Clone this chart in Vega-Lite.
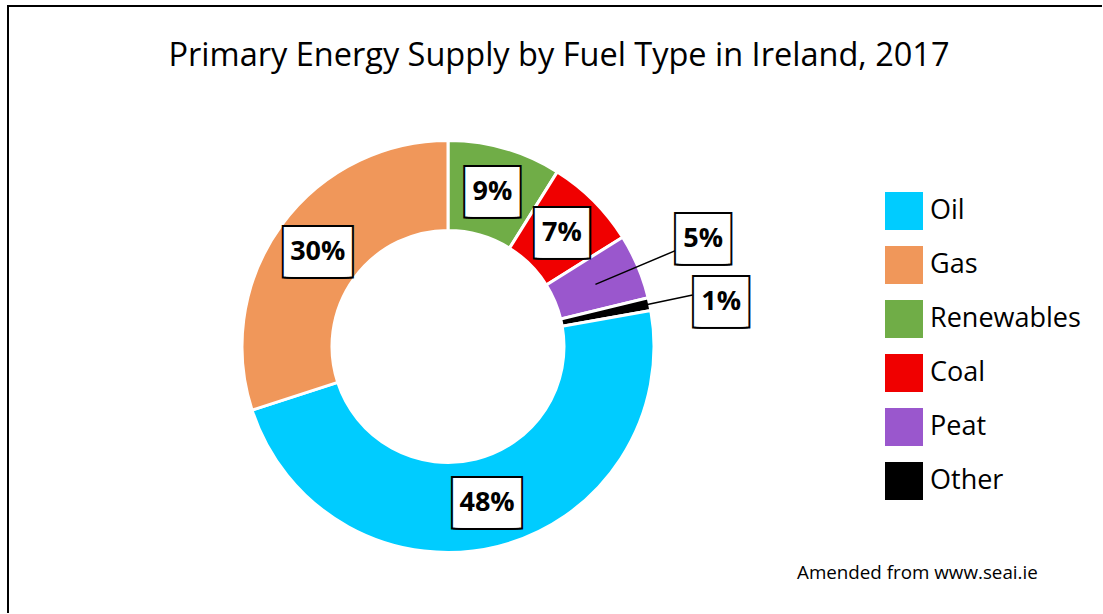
{
  "$schema": "https://vega.github.io/schema/vega-lite/v6.json",
  "width": 1094,
  "height": 607,
  "padding": {"left": 8, "top": 6, "right": 0, "bottom": 0},
  "background": "white",
  "view": {"stroke": "black", "strokeWidth": 2, "strokeDash": [1094, 1701, 607], "fill": "white"},
  "title": {
    "text": "Primary Energy Supply by Fuel Type in Ireland, 2017",
    "font": "Open Sans",
    "fontSize": 32.5,
    "fontWeight": "normal",
    "color": "black",
    "anchor": "middle",
    "baseline": "bottom",
    "offset": -99,
    "dx": 4
  },
  "config": {
    "legend": {
      "orient": "none",
      "legendX": 789,
      "legendY": 186,
      "direction": "vertical",
      "padding": 0,
      "symbolType": "square",
      "symbolSize": 1444,
      "symbolOffset": 88,
      "symbolStrokeWidth": 0,
      "symbolOpacity": 1,
      "labelOffset": 7,
      "labelFont": "Open Sans",
      "labelFontSize": 27,
      "labelColor": "black",
      "labelLimit": 300,
      "rowPadding": 16,
      "titleOrient": "bottom",
      "titleAnchor": "start",
      "titleBaseline": "top",
      "titlePadding": 64,
      "titleFont": "Open Sans",
      "titleFontSize": 18.8,
      "titleFontWeight": "normal",
      "titleColor": "black",
      "titleLimit": 400
    }
  },
  "data": {
    "values": [
      {"fuel": "Renewables", "value": 8.9, "pct": "9%", "ord": 1},
      {"fuel": "Coal", "value": 7.2, "pct": "7%", "ord": 2},
      {"fuel": "Peat", "value": 5.1, "pct": "5%", "ord": 3},
      {"fuel": "Other", "value": 1.0, "pct": "1%", "ord": 4},
      {"fuel": "Oil", "value": 47.8, "pct": "48%", "ord": 5},
      {"fuel": "Gas", "value": 30.0, "pct": "30%", "ord": 6}
    ]
  },
  "encoding": {
    "theta": {"field": "value", "type": "quantitative", "stack": true},
    "order": {"field": "ord", "type": "quantitative"},
    "detail": {"field": "fuel", "type": "nominal"}
  },
  "layer": [
    {
      "mark": {"type": "arc", "outerRadius": 206, "innerRadius": 116, "stroke": "white", "strokeWidth": 3, "xOffset": -107, "yOffset": 37},
      "encoding": {
        "color": {
          "field": "fuel",
          "type": "nominal",
          "scale": {
            "domain": ["Oil", "Gas", "Renewables", "Coal", "Peat", "Other"],
            "range": ["#00CCFF", "#F0975A", "#70AD47", "#F00000", "#9A57CD", "#000000"]
          },
          "legend": {"title": "Amended from www.seai.ie"}
        }
      }
    },
    {
      "mark": {"type": "arc", "outerRadius": 250, "innerRadius": 160, "padAngle": 3.14, "fillOpacity": 0, "stroke": "black", "strokeWidth": 1.5, "xOffset": -107, "yOffset": 37},
      "encoding": {
        "strokeOpacity": {"condition": {"test": "datum.fuel === 'Peat' || datum.fuel === 'Other'", "value": 1}, "value": 0}
      }
    },
    {
      "mark": {"type": "text", "radius": 161, "font": "DejaVu Sans Mono", "fontSize": 3.85, "align": "center", "baseline": "middle", "fill": "black", "stroke": "black", "strokeWidth": 48.9, "strokeJoin": "miter", "xOffset": -107, "yOffset": 37},
      "encoding": {
        "text": {"condition": {"test": "datum.fuel === 'Oil' || datum.fuel === 'Gas'", "value": "██████████"}, "value": "████"},
        "opacity": {"condition": {"test": "datum.fuel === 'Peat' || datum.fuel === 'Other'", "value": 0}, "value": 1}
      }
    },
    {
      "mark": {"type": "text", "radius": 161, "font": "DejaVu Sans Mono", "fontSize": 3.85, "align": "center", "baseline": "middle", "fill": "white", "stroke": "white", "strokeWidth": 44.9, "strokeJoin": "miter", "xOffset": -107, "yOffset": 37},
      "encoding": {
        "text": {"condition": {"test": "datum.fuel === 'Oil' || datum.fuel === 'Gas'", "value": "██████████"}, "value": "████"},
        "opacity": {"condition": {"test": "datum.fuel === 'Peat' || datum.fuel === 'Other'", "value": 0}, "value": 1}
      }
    },
    {
      "mark": {"type": "text", "radius": 277, "text": "████", "font": "DejaVu Sans Mono", "fontSize": 3.85, "align": "center", "baseline": "middle", "fill": "black", "stroke": "black", "strokeWidth": 48.9, "strokeJoin": "miter", "xOffset": -107, "yOffset": 37},
      "encoding": {
        "opacity": {"condition": {"test": "datum.fuel === 'Peat'", "value": 1}, "value": 0}
      }
    },
    {
      "mark": {"type": "text", "radius": 277, "text": "████", "font": "DejaVu Sans Mono", "fontSize": 3.85, "align": "center", "baseline": "middle", "fill": "white", "stroke": "white", "strokeWidth": 44.9, "strokeJoin": "miter", "xOffset": -107, "yOffset": 37},
      "encoding": {
        "opacity": {"condition": {"test": "datum.fuel === 'Peat'", "value": 1}, "value": 0}
      }
    },
    {
      "mark": {"type": "text", "radius": 277, "text": "████", "font": "DejaVu Sans Mono", "fontSize": 3.85, "align": "center", "baseline": "middle", "fill": "black", "stroke": "black", "strokeWidth": 48.9, "strokeJoin": "miter", "xOffset": -105, "yOffset": 50},
      "encoding": {
        "opacity": {"condition": {"test": "datum.fuel === 'Other'", "value": 1}, "value": 0}
      }
    },
    {
      "mark": {"type": "text", "radius": 277, "text": "████", "font": "DejaVu Sans Mono", "fontSize": 3.85, "align": "center", "baseline": "middle", "fill": "white", "stroke": "white", "strokeWidth": 44.9, "strokeJoin": "miter", "xOffset": -105, "yOffset": 50},
      "encoding": {
        "opacity": {"condition": {"test": "datum.fuel === 'Other'", "value": 1}, "value": 0}
      }
    },
    {
      "mark": {"type": "text", "radius": 161, "font": "Open Sans", "fontSize": 27, "fontWeight": "bold", "align": "center", "baseline": "middle", "fill": "black", "xOffset": -107, "yOffset": 37},
      "encoding": {
        "text": {"field": "pct", "type": "nominal"},
        "opacity": {"condition": {"test": "datum.fuel === 'Peat' || datum.fuel === 'Other'", "value": 0}, "value": 1}
      }
    },
    {
      "mark": {"type": "text", "radius": 277, "font": "Open Sans", "fontSize": 27, "fontWeight": "bold", "align": "center", "baseline": "middle", "fill": "black", "xOffset": -107, "yOffset": 37},
      "encoding": {
        "text": {"field": "pct", "type": "nominal"},
        "opacity": {"condition": {"test": "datum.fuel === 'Peat'", "value": 1}, "value": 0}
      }
    },
    {
      "mark": {"type": "text", "radius": 277, "font": "Open Sans", "fontSize": 27, "fontWeight": "bold", "align": "center", "baseline": "middle", "fill": "black", "xOffset": -105, "yOffset": 50},
      "encoding": {
        "text": {"field": "pct", "type": "nominal"},
        "opacity": {"condition": {"test": "datum.fuel === 'Other'", "value": 1}, "value": 0}
      }
    }
  ]
}
